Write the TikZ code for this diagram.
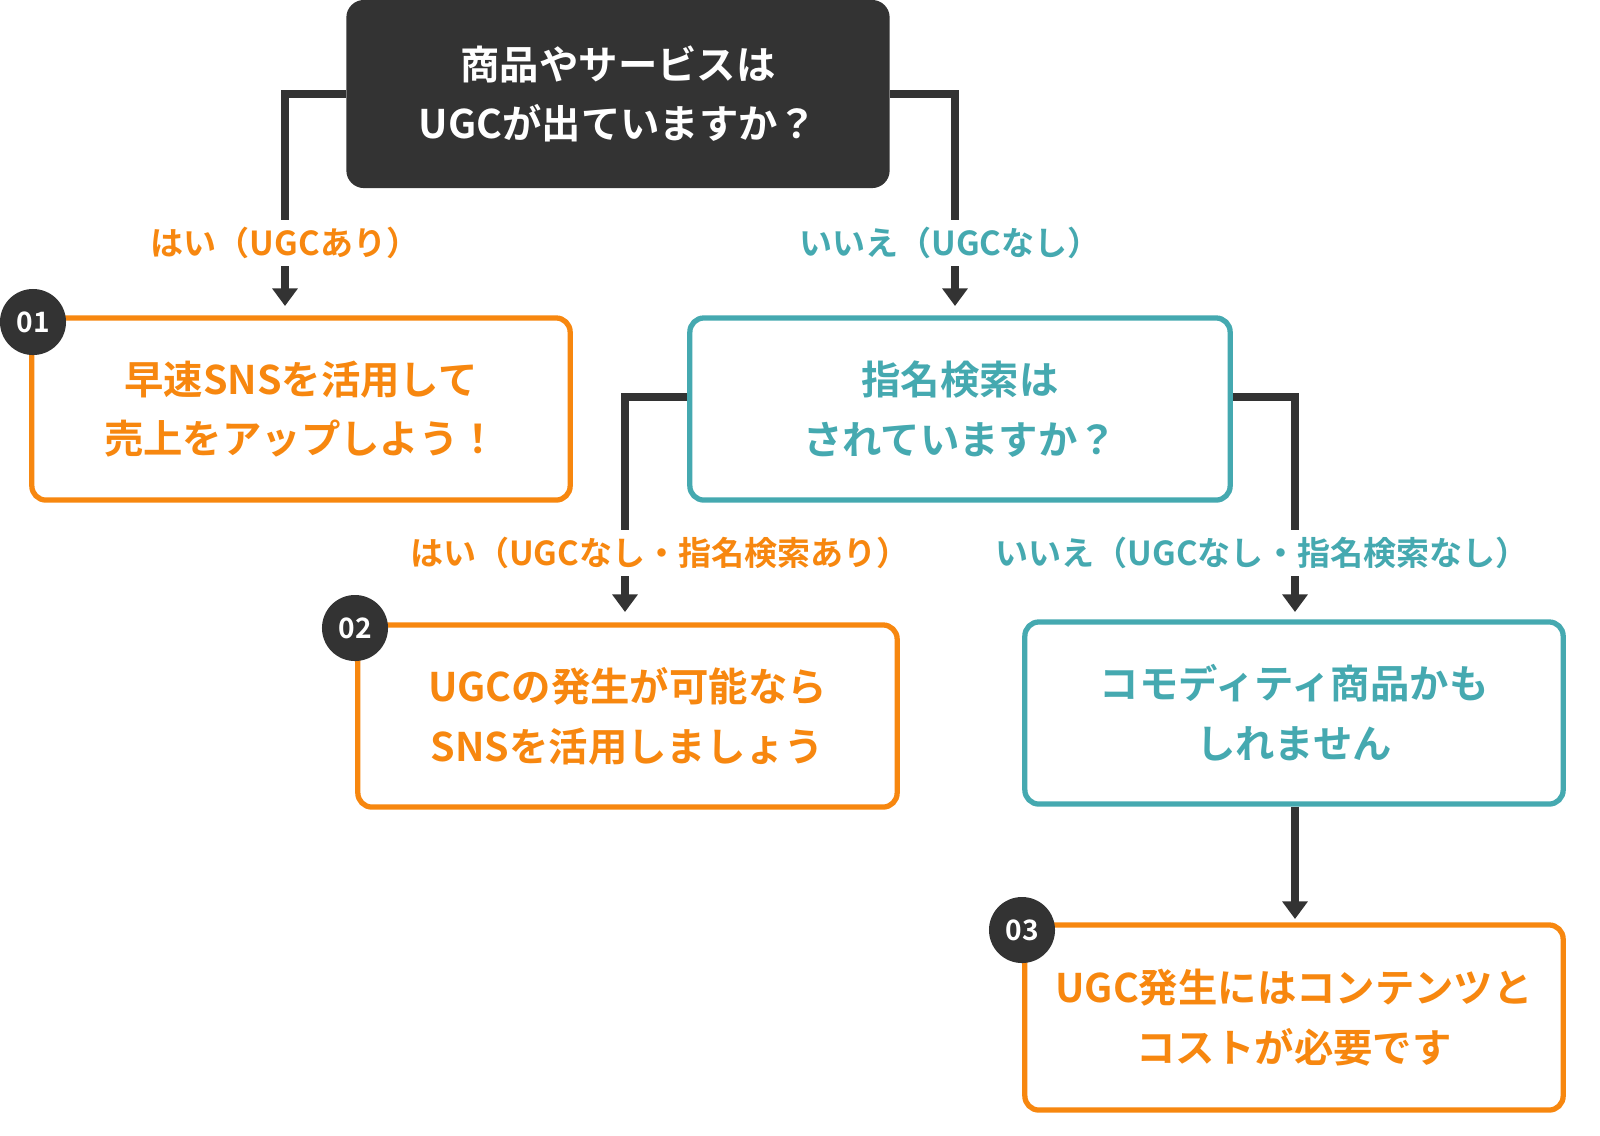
\documentclass[tikz,border=0pt]{standalone}
\usepackage{fontspec}
\newfontfamily\jp{Noto Sans CJK JP}[BoldFont={Noto Sans CJK JP Bold}]
\usetikzlibrary{arrows.meta}
\definecolor{og}{HTML}{F7870F}
\definecolor{tl}{HTML}{45A9B0}
\definecolor{dk}{HTML}{333333}
\begin{document}
\begin{tikzpicture}[x=0.01cm,y=-0.01cm,
  box/.style={draw=#1,line width=1.5pt,rounded corners=4pt,fill=white,text=#1,font=\jp\bfseries\fontsize{11.2}{17}\selectfont,align=center,inner sep=0pt},
  conn/.style={draw=dk,line width=2.3pt,-{Triangle[length=5pt,width=7pt]}},
  lab/.style={fill=white,text=#1,font=\jp\bfseries\fontsize{9.4}{11}\selectfont,inner sep=2pt},
  num/.style={circle,fill=dk,text=white,minimum size=0.66cm,inner sep=0pt,font=\jp\bfseries\fontsize{8}{8}\selectfont}]
\useasboundingbox (0,0) rectangle (1600,1135);
\node[fill=dk,rounded corners=5pt,text=white,font=\jp\bfseries\fontsize{11.2}{17}\selectfont,align=center,minimum width=5.43cm,minimum height=1.88cm] (q1) at (618,94) {商品やサービスは\\UGCが出ていますか？};
\node[box=og,minimum width=5.38cm,minimum height=1.82cm] (a1) at (301,409) {早速SNSを活用して\\売上をアップしよう！};
\node[box=tl,minimum width=5.40cm,minimum height=1.82cm] (q2) at (960,409) {指名検索は\\されていますか？};
\node[box=og,minimum width=5.39cm,minimum height=1.82cm] (a2) at (627.5,716) {UGCの発生が可能なら\\SNSを活用しましょう};
\node[box=tl,minimum width=5.38cm,minimum height=1.82cm] (q3) at (1294,713) {コモディティ商品かも\\しれません};
\node[box=og,minimum width=5.38cm,minimum height=1.85cm] (a3) at (1294,1017.5) {UGC発生にはコンテンツと\\コストが必要です};
\node[num] (n1) at (33,322) {01};
\node[num] (n2) at (355,628) {02};
\node[num] (n3) at (1022,930) {03};
\coordinate (e1) at (285,306);
\coordinate (e2) at (955,306);
\coordinate (e3) at (625,612);
\coordinate (e4) at (1295,612);
\coordinate (e5) at (1295,919);
\draw[conn] (q1.west) -| (e1);
\draw[conn] (q1.east) -| (e2);
\draw[conn] (q2.west |- 0,397) -| (e3);
\draw[conn] (q2.east |- 0,397) -| (e4);
\draw[conn] (q3.south -| e5) -- (e5);
\node[lab=og] (l1) at (285,243) {はい（UGCあり）};
\node[lab=tl] (l2) at (950,243) {いいえ（UGCなし）};
\node[lab=og] (l3) at (660,553) {はい（UGCなし・指名検索あり）};
\node[lab=tl] (l4) at (1262,553) {いいえ（UGCなし・指名検索なし）};
\end{tikzpicture}
\end{document}
